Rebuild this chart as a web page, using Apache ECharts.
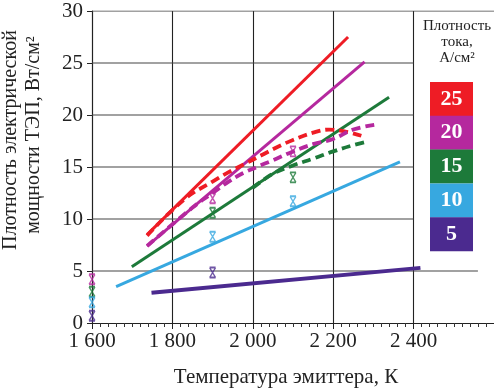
<!DOCTYPE html>
<html>
<head>
<meta charset="utf-8">
<script src="https://cdn.jsdelivr.net/npm/echarts@6/dist/echarts.min.js"></script>
<style>html,body{margin:0;padding:0;background:#fff}#c{width:494px;height:390px}</style>
</head>
<body>
<div id="c"></div>
<script>
// ---- data ----
const xTickLabels = ['1 600', '1 800', '2 000', '2 200', '2 400'];
const yTickLabels = ['0', '5', '10', '15', '20', '25', '30'];
const legendLabels = ['25', '20', '15', '10', '5'];
const seriesColors = ['#ee1c25', '#b5289e', '#1d7a3a', '#37a8e0', '#4b2a8f'];

// solid lines (temperature K, power W/cm2)
const line25 = [[1737, 8.5], [2237, 27.5]];
const line20 = [[1737, 7.4], [2278, 25.1]];
const line15 = [[1699, 5.4], [2339, 21.7]];
const line10 = [[1660, 3.5], [2366, 15.5]];
const line5  = [[1748, 2.9], [2417, 5.3]];

// dashed curves
const dash25 = [[1737, 8.4], [1830, 11.9], [1900, 13.6], [1940, 14.5], [1980, 15.3], [2020, 16.1], [2060, 16.9], [2100, 17.6], [2150, 18.3], [2190, 18.6], [2230, 18.4], [2270, 18.0]];
const dash20 = [[1737, 7.4], [1850, 11.1], [1900, 12.5], [1940, 13.6], [1975, 14.4], [2010, 15.0], [2050, 15.65], [2100, 16.5], [2150, 17.2], [2200, 17.7], [2250, 18.6], [2310, 19.1]];
const dash15 = [[2000, 13.0], [2050, 14.35], [2100, 15.15], [2150, 15.8], [2200, 16.5], [2250, 17.1], [2280, 17.4]];

// experimental points (x markers)
const pts20 = [[1600, 4.2], [1900, 12.0], [2100, 16.5]];
const pts15 = [[1600, 3.0], [1900, 10.6], [2100, 14.0]];
const pts10 = [[1600, 2.0], [1900, 8.3], [2100, 11.7]];
const pts5  = [[1600, 0.7], [1900, 4.85]];

// horizontal grid lines: [value, end temperature]
const hGrid = [[5, 2560], [10, 2400], [15, 2400], [20, 2400], [25, 2400], [30, 2600]];

const FONT = '"Liberation Serif", "DejaVu Serif", serif';
const chart = echarts.init(document.getElementById('c'), null, {renderer: 'canvas'});

const xMark = 'path://M0,0 L10,0 M0,0 L10,16 M10,0 L0,16 M0,16 L10,16';

function solid(data, color, w) {
  return {type: 'line', data, symbol: 'none', silent: true, z: 3,
    lineStyle: {color, width: w || 3, cap: 'butt'}};
}
function dashed(data, color) {
  return {type: 'line', data, symbol: 'none', smooth: 0.4, silent: true, z: 4,
    lineStyle: {color, width: 3.8, type: [9, 5], cap: 'butt'}};
}
function marks(data, color) {
  return {type: 'scatter', data, symbol: xMark, symbolSize: [6, 10], silent: true, z: 5,
    itemStyle: {color: 'rgba(0,0,0,0)', borderColor: color, borderWidth: 1.5}};
}
const gridSeries = hGrid.map(h => ({
  type: 'line', data: [[1600, h[0]], [h[1], h[0]]], symbol: 'none', silent: true, z: 1,
  lineStyle: {color: '#444', width: 1.1}
}));

const legendGraphics = [];
legendLabels.forEach((lab, i) => {
  legendGraphics.push({type: 'rect', shape: {x: 430, y: 82 + i * 33.8, width: 43, height: 34},
    style: {fill: seriesColors[i]}, z: 10});
  legendGraphics.push({type: 'text', x: 451.5, y: 99 + i * 33.8, z: 11,
    style: {text: lab, fill: '#fff', font: 'bold 22px ' + FONT, textAlign: 'center', textVerticalAlign: 'middle'}});
});

chart.setOption({
  animation: false,
  grid: {left: 92, right: -6, top: 11, bottom: 67},
  xAxis: {
    type: 'value', min: 1600, max: 2600, interval: 200,
    axisLine: {lineStyle: {color: '#222', width: 1.2}},
    axisTick: {show: true, length: 6, lineStyle: {color: '#222'}},
    minorTick: {show: true, splitNumber: 10, length: 4, lineStyle: {color: '#333'}},
    splitLine: {show: true, showMinLine: false, showMaxLine: false, lineStyle: {color: '#222', width: 1.1}},
    axisLabel: {
      fontFamily: FONT, fontSize: 21, color: '#222', margin: 8, showMaxLabel: false,
      formatter: v => xTickLabels[Math.round((v - 1600) / 200)] || ''
    }
  },
  yAxis: {
    type: 'value', min: 0, max: 30, interval: 5,
    axisLine: {show: true, lineStyle: {color: '#222', width: 1.2}},
    axisTick: {show: true, length: 5, lineStyle: {color: '#222'}},
    splitLine: {show: false},
    axisLabel: {
      fontFamily: FONT, fontSize: 21, color: '#222', margin: 9,
      formatter: v => yTickLabels[Math.round(v / 5)]
    }
  },
  series: [
    ...gridSeries,
    solid(line25, seriesColors[0]),
    solid(line20, seriesColors[1]),
    solid(line15, seriesColors[2]),
    solid(line10, seriesColors[3]),
    solid(line5, seriesColors[4], 4),
    dashed(dash25, seriesColors[0]),
    dashed(dash20, seriesColors[1]),
    dashed(dash15, seriesColors[2]),
    marks(pts20, seriesColors[1]),
    marks(pts15, seriesColors[2]),
    marks(pts10, seriesColors[3]),
    marks(pts5, seriesColors[4])
  ],
  graphic: [
    {type: 'text', x: 11, y: 140, rotation: Math.PI / 2,
      style: {text: 'Плотность электрической', fill: '#222', font: '20px ' + FONT, textAlign: 'center', textVerticalAlign: 'middle'}},
    {type: 'text', x: 34, y: 135, rotation: Math.PI / 2,
      style: {text: 'мощности ТЭП, Вт/см²', fill: '#222', font: '20px ' + FONT, textAlign: 'center', textVerticalAlign: 'middle'}},
    {type: 'text', x: 286, y: 377,
      style: {text: 'Температура эмиттера, К', fill: '#222', font: '21px ' + FONT, textAlign: 'center', textVerticalAlign: 'middle'}},
    {type: 'text', x: 457, y: 42,
      style: {text: 'Плотность\nтока,\nА/см²', fill: '#222', font: '15px ' + FONT, lineHeight: 16, textAlign: 'center', textVerticalAlign: 'middle'}},
    ...legendGraphics
  ]
});
</script>
</body>
</html>
